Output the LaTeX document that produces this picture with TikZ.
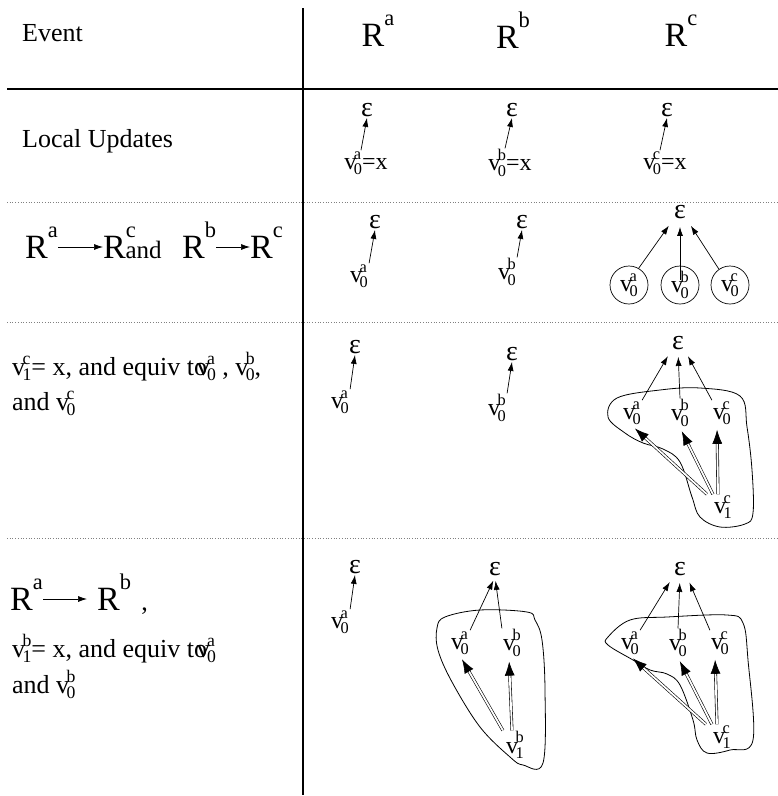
\documentclass[tikz,border=0pt]{standalone}
\usepackage{fontspec}
\setmainfont{Liberation Serif}
\usepackage{graphicx}
\usetikzlibrary{arrows.meta}

% v with a subscript and a superscript stacked
\newcommand{\vsub}[2]{v\kern-0.1em\rlap{\raisebox{0.42em}{\scalebox{0.68}{#2}}}\raisebox{-0.22em}{\scalebox{0.68}{#1}}}
% R with a superscript
\newcommand{\rsup}[1]{R\raisebox{0.6em}{\scalebox{0.66}{#1}}}

\begin{document}
\begin{tikzpicture}[x=1pt, y=-1pt, >={Latex[length=9pt,width=6pt]},
    txt/.style={inner sep=0pt, font=\fontsize{26}{30}\selectfont},
    bigtxt/.style={inner sep=0pt, font=\fontsize{34}{38}\selectfont},
    vtx/.style={inner sep=1pt, font=\fontsize{24}{28}\selectfont},
    eps/.style={inner sep=1pt, font=\fontsize{28}{32}\selectfont},
    ring/.style={circle, draw, line width=0.7pt, minimum size=38pt, inner sep=0pt, font=\fontsize{24}{28}\selectfont},
    lnk/.style={->, line width=0.7pt},
    dbl/.style={double, double distance=1.8pt, line width=0.6pt, -{Latex[length=14pt,width=10pt]}},
    blob/.style={line width=0.8pt},
    dotrule/.style={dotted, line width=0.7pt, gray}]
  \useasboundingbox (0,0) rectangle (778,796);

  % Table rules
  \draw[line width=1.5pt] (7,89) -- (778,89);
  \draw[line width=1.5pt] (303,8) -- (303,795);
  \draw[dotrule] (7,202) -- (778,202);
  \draw[dotrule] (7,322) -- (778,322);
  \draw[dotrule] (7,538) -- (778,538);

  % Header
  \node[txt, anchor=base west] (event) at (22,41) {Event};
  \node[bigtxt, anchor=base] (hra) at (378,46) {\rsup{a}};
  \node[bigtxt, anchor=base] (hrb) at (513,48) {\rsup{b}};
  \node[bigtxt, anchor=base] (hrc) at (681,46) {\rsup{c}};

  % Row 1: local updates
  \node[txt, anchor=base west] (local) at (22,147) {Local Updates};
  \node[eps] (ea1) at (367,110) {ε};
  \node[eps] (eb1) at (512,110) {ε};
  \node[eps] (ec1) at (667,110) {ε};
  \node[vtx] (va1) at (366,163) {\vsub{0}{a}=x};
  \node[vtx] (vb1) at (510,163) {\vsub{0}{b}=x};
  \node[vtx] (vc1) at (665,163) {\vsub{0}{c}=x};
  \draw[lnk] ([xshift=-5pt]va1.north) -- (ea1.south);
  \draw[lnk] ([xshift=-5pt]vb1.north) -- (eb1.south);
  \draw[lnk] ([xshift=-5pt]vc1.north) -- (ec1.south);

  % Row 2: R^a -> R^c and R^b -> R^c
  \node[bigtxt, anchor=base west] (ra2) at (25,258) {\rsup{a}};
  \node[bigtxt, anchor=base west] (rc2) at (103,258) {\rsup{c}\kern-0.3em{\fontsize{25}{28}\selectfont and}};
  \node[bigtxt, anchor=base west] (rb2) at (182,258) {\rsup{b}};
  \node[bigtxt, anchor=base west] (rc2b) at (250,258) {\rsup{c}};
  \draw[lnk] ([yshift=11pt]ra2.base east) -- ([yshift=11pt]rc2.base west);
  \draw[lnk] ([yshift=11pt]rb2.base east) -- ([yshift=11pt]rc2b.base west);
  \node[eps] (ea2) at (375,222) {ε};
  \node[vtx] (va2) at (359,276) {\vsub{0}{a}};
  \draw[lnk] (va2.north east) -- (ea2.south);
  \node[eps] (eb2) at (522,222) {ε};
  \node[vtx] (vb2) at (507,272) {\vsub{0}{b}};
  \draw[lnk] (vb2.north east) -- (eb2.south);
  \node[eps] (ec2) at (680,212) {ε};
  \node[ring] (ca2) at (629,285) {\vsub{0}{a}};
  \node[ring] (cb2) at (680,285) {\vsub{0}{b}};
  \node[ring] (cc2) at (730,285) {\vsub{0}{c}};
  \draw[lnk, shorten >=7pt] (ca2.60) -- (ec2.south west);
  \draw[lnk, shorten >=7pt] ([yshift=-14pt]cb2.north) -- (ec2.south);
  \draw[lnk, shorten >=7pt] (cc2.125) -- (ec2.south east);

  % Row 3: v_1^c = x
  \node[txt, anchor=base west] (t3a) at (12,375) {\vsub{1}{c}= x, and equiv to\kern-0.4em\vsub{0}{a} , \vsub{0}{b},};
  \node[txt, anchor=base west] (t3b) at (12,410) {and \vsub{0}{c}};
  \node[eps] (ea3) at (355,347) {ε};
  \node[vtx] (va3) at (340,402) {\vsub{0}{a}};
  \draw[lnk] (va3.north east) -- (ea3.south);
  \node[eps] (eb3) at (512,354) {ε};
  \node[vtx] (vb3) at (497,408) {\vsub{0}{b}};
  \draw[lnk] (vb3.north east) -- (eb3.south);
  \draw[blob] plot[smooth cycle, tension=0.6] coordinates {(608,417) (617,398) (660,390) (700,388) (740,396) (747,427) (752,470) (753,513) (745,524) (720,527) (700,517) (692,497) (680,462) (663,449) (643,443) (625,433)};
  \node[eps] (ec3) at (678,343) {ε};
  \node[vtx] (va3c) at (632,413) {\vsub{0}{a}};
  \node[vtx] (vb3c) at (680,413) {\vsub{0}{b}};
  \node[vtx] (vc3c) at (722,413) {\vsub{0}{c}};
  \node[vtx] (v13c) at (723,507) {\vsub{1}{c}};
  \draw[lnk, shorten >=6pt] (va3c.north east) -- (ec3.south west);
  \draw[lnk, shorten >=6pt] (vb3c.north) -- (ec3.south);
  \draw[lnk, shorten >=6pt] (vc3c.north west) -- (ec3.south east);
  \draw[dbl, shorten >=4pt] ([xshift=-6pt]v13c.north west) -- (va3c.south);
  \draw[dbl, shorten >=4pt] (v13c.north west) -- (vb3c.south);
  \draw[dbl, shorten >=4pt] ([xshift=-5pt]v13c.north) -- ([xshift=-5pt]vc3c.south);

  % Row 4: R^a -> R^b
  \node[bigtxt, anchor=base west] (ra4) at (10,610) {\rsup{a}};
  \node[bigtxt, anchor=base west] (rb4) at (97,610) {\rsup{b}\hspace{0.3em}{\fontsize{26}{30}\selectfont ,}};
  \draw[lnk] ([yshift=11pt]ra4.base east) -- ([yshift=11pt,xshift=-10pt]rb4.base west);
  \node[txt, anchor=base west] (t4a) at (12,657) {\vsub{1}{b}= x, and equiv to\kern-0.4em\vsub{0}{a}};
  \node[txt, anchor=base west] (t4b) at (12,693) {and \vsub{0}{b}};
  \node[eps] (ea4) at (355,567) {ε};
  \node[vtx] (va4) at (340,622) {\vsub{0}{a}};
  \draw[lnk] (va4.north east) -- (ea4.south);
  \draw[blob] plot[smooth cycle, tension=0.6] coordinates {(437,628) (445,617) (480,610) (527,612) (535,620) (542,640) (545,690) (543,763) (523,765) (510,757) (480,727) (452,682) (438,650)};
  \node[eps] (eb4) at (495,569) {ε};
  \node[vtx] (va4b) at (460,643) {\vsub{0}{a}};
  \node[vtx] (vb4b) at (512,643) {\vsub{0}{b}};
  \node[vtx] (v14b) at (515,745) {\vsub{1}{b}};
  \draw[lnk, shorten >=4pt] (va4b.north east) -- (eb4.south);
  \draw[lnk, shorten >=4pt] (vb4b.north west) -- (eb4.south);
  \draw[dbl, shorten >=4pt] ([xshift=-2pt]v14b.north west) -- (va4b.south);
  \draw[dbl, shorten >=4pt] ([xshift=-3pt]v14b.north) -- ([xshift=-3pt]vb4b.south);
  \draw[blob] plot[smooth cycle, tension=0.6] coordinates {(608,637) (630,620) (667,617) (727,615) (743,623) (748,660) (753,740) (730,750) (707,753) (697,740) (693,720) (680,685) (667,674) (650,670) (633,660) (608,645)};
  \node[eps] (ec4) at (680,569) {ε};
  \node[vtx] (va4c) at (630,643) {\vsub{0}{a}};
  \node[vtx] (vb4c) at (678,643) {\vsub{0}{b}};
  \node[vtx] (vc4c) at (720,643) {\vsub{0}{c}};
  \node[vtx] (v14c) at (722,737) {\vsub{1}{c}};
  \draw[lnk, shorten >=6pt] (va4c.north east) -- (ec4.south west);
  \draw[lnk, shorten >=6pt] (vb4c.north) -- (ec4.south);
  \draw[lnk, shorten >=6pt] (vc4c.north west) -- (ec4.south east);
  \draw[dbl, shorten >=4pt] ([xshift=-6pt]v14c.north west) -- (va4c.south);
  \draw[dbl, shorten >=4pt] (v14c.north west) -- (vb4c.south);
  \draw[dbl, shorten >=4pt] ([xshift=-5pt]v14c.north) -- ([xshift=-5pt]vc4c.south);
\end{tikzpicture}
\end{document}
